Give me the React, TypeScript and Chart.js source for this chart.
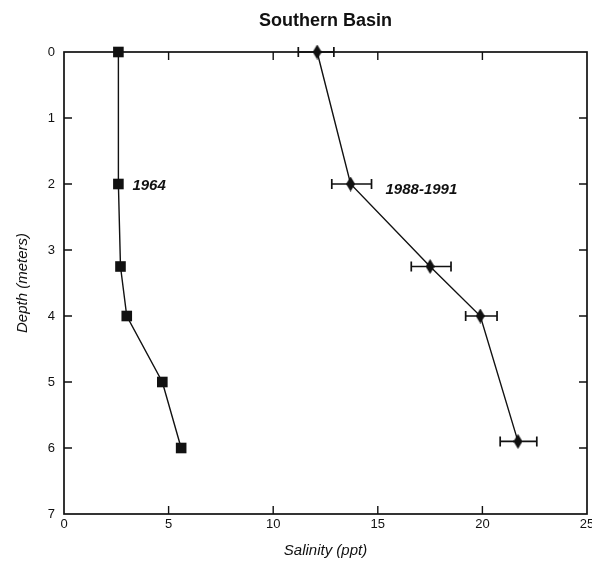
import { useEffect, useRef } from "react";
import { Chart, registerables } from "chart.js";

Chart.register(...registerables);

// Salinity profiles, Southern Basin
const depth1964 = [0, 2, 3.25, 4, 5, 6];
const salinity1964 = [2.6, 2.6, 2.7, 3.0, 4.7, 5.6];

const depthRecent = [0, 2, 3.25, 4, 5.9];
const salinityRecent = [12.1, 13.7, 17.5, 19.9, 21.7];
const salinityRecentLow = [11.2, 12.8, 16.6, 19.2, 20.85];
const salinityRecentHigh = [12.9, 14.7, 18.5, 20.7, 22.6];

const seriesNames = ["1964", "1988-1991"];
const innerTicksX = [5, 10, 15, 20];
const innerTicksY = [1, 2, 3, 4, 5, 6];

const FONT = "'Liberation Sans', Arial, Helvetica, sans-serif";
const INK = "#111";

function makeDiamond(w: number, h: number) {
  const c = document.createElement("canvas");
  c.width = w;
  c.height = h;
  const ctx = c.getContext("2d")!;
  ctx.fillStyle = INK;
  ctx.beginPath();
  ctx.moveTo(w / 2, 0);
  ctx.lineTo(w, h / 2);
  ctx.lineTo(w / 2, h);
  ctx.lineTo(0, h / 2);
  ctx.closePath();
  ctx.fill();
  return c;
}

// box frame with inward-pointing ticks on all four sides
const framePlugin = {
  id: "frameTicks",
  beforeDatasetsDraw(chart: any) {
    const { ctx, chartArea: a, scales } = chart;
    const len = 8;
    ctx.save();
    ctx.strokeStyle = INK;
    ctx.lineWidth = 1.7;
    ctx.strokeRect(a.left, a.top, a.right - a.left, a.bottom - a.top);
    ctx.lineWidth = 1.4;
    ctx.beginPath();
    for (const v of innerTicksX) {
      const px = scales.x.getPixelForValue(v);
      ctx.moveTo(px, a.top);
      ctx.lineTo(px, a.top + len);
      ctx.moveTo(px, a.bottom);
      ctx.lineTo(px, a.bottom - len);
    }
    for (const v of innerTicksY) {
      const py = scales.y.getPixelForValue(v);
      ctx.moveTo(a.left, py);
      ctx.lineTo(a.left + len, py);
      ctx.moveTo(a.right, py);
      ctx.lineTo(a.right - len, py);
    }
    ctx.stroke();
    ctx.restore();
  },
};

// horizontal error bars for the 1988-1991 profile
const errorBarPlugin = {
  id: "errorBars",
  beforeDatasetsDraw(chart: any) {
    const { ctx, scales } = chart;
    const cap = 5;
    ctx.save();
    ctx.strokeStyle = INK;
    ctx.lineWidth = 1.7;
    ctx.beginPath();
    depthRecent.forEach((d, i) => {
      const y = scales.y.getPixelForValue(d);
      const x0 = scales.x.getPixelForValue(salinityRecentLow[i]);
      const x1 = scales.x.getPixelForValue(salinityRecentHigh[i]);
      ctx.moveTo(x0, y);
      ctx.lineTo(x1, y);
      ctx.moveTo(x0, y - cap);
      ctx.lineTo(x0, y + cap);
      ctx.moveTo(x1, y - cap);
      ctx.lineTo(x1, y + cap);
    });
    ctx.stroke();
    ctx.restore();
  },
};

// series names written beside the 2 m points
const seriesLabelPlugin = {
  id: "seriesLabels",
  afterDatasetsDraw(chart: any) {
    const { ctx, scales } = chart;
    ctx.save();
    ctx.fillStyle = INK;
    ctx.font = `italic bold 15px ${FONT}`;
    ctx.textAlign = "left";
    ctx.textBaseline = "alphabetic";
    const i1964 = depth1964.indexOf(2);
    ctx.fillText(
      seriesNames[0],
      scales.x.getPixelForValue(salinity1964[i1964]) + 14,
      scales.y.getPixelForValue(depth1964[i1964]) + 6
    );
    const iRecent = depthRecent.indexOf(2);
    ctx.fillText(
      seriesNames[1],
      scales.x.getPixelForValue(salinityRecentHigh[iRecent]) + 14,
      scales.y.getPixelForValue(depthRecent[iRecent]) + 10
    );
    ctx.restore();
  },
};

const noPadding = () => ({ left: 0, top: 0, right: 0, bottom: 0 });

export default function App() {
  const canvasRef = useRef<HTMLCanvasElement | null>(null);

  useEffect(() => {
    if (!canvasRef.current) return;
    const diamond = makeDiamond(9, 15);
    const chart = new Chart(canvasRef.current, {
      type: "scatter",
      data: {
        datasets: [
          {
            label: seriesNames[0],
            data: depth1964.map((d, i) => ({ x: salinity1964[i], y: d })),
            showLine: true,
            borderColor: INK,
            borderWidth: 1.4,
            pointStyle: "rect",
            pointRadius: 7.5,
            pointBackgroundColor: INK,
            pointBorderColor: INK,
            pointBorderWidth: 0,
            clip: false,
          },
          {
            label: seriesNames[1],
            data: depthRecent.map((d, i) => ({ x: salinityRecent[i], y: d })),
            showLine: true,
            borderColor: INK,
            borderWidth: 1.4,
            pointStyle: diamond,
            pointRadius: 7,
            pointBackgroundColor: INK,
            pointBorderColor: INK,
            clip: false,
          },
        ],
      },
      options: {
        responsive: false,
        animation: false,
        events: [],
        layout: { autoPadding: false, padding: { left: 0, top: 0, right: 5, bottom: 0 } },
        plugins: {
          legend: { display: false },
          tooltip: { enabled: false },
          title: {
            display: true,
            text: "Southern Basin",
            fullSize: false,
            color: INK,
            font: { family: FONT, size: 18, weight: "bold" },
            padding: { top: 10, bottom: 20.4 },
          },
        },
        scales: {
          x: {
            type: "linear",
            position: "bottom",
            min: 0,
            max: 25,
            ticks: {
              stepSize: 5,
              color: INK,
              padding: 3,
              font: { family: FONT, size: 13 },
            },
            grid: { display: false, drawTicks: false, tickLength: 0 },
            border: { display: false },
            title: {
              display: true,
              text: "Salinity (ppt)",
              color: INK,
              font: { family: FONT, size: 15, style: "italic" },
              padding: { top: 0, bottom: 1 },
            },
            afterFit: (s: any) => {
              s.height = 47;
              s.paddingLeft = 0;
              s.paddingRight = 0;
              s.getPadding = noPadding;
            },
          },
          y: {
            type: "linear",
            position: "left",
            reverse: true,
            min: 0,
            max: 7,
            ticks: {
              stepSize: 1,
              color: INK,
              padding: 9,
              font: { family: FONT, size: 13 },
            },
            grid: { display: false, drawTicks: false, tickLength: 0 },
            border: { display: false },
            title: {
              display: true,
              text: "Depth (meters)",
              color: INK,
              font: { family: FONT, size: 15, style: "italic" },
              padding: { top: 14, bottom: 0 },
            },
            afterFit: (s: any) => {
              s.width = 64;
              s.paddingTop = 0;
              s.paddingBottom = 0;
              s.getPadding = noPadding;
            },
          },
        },
      },
      plugins: [framePlugin, errorBarPlugin, seriesLabelPlugin],
    });
    return () => chart.destroy();
  }, []);

  return (
    <div style={{ position: "fixed", left: 0, top: 0, width: 592, height: 561, background: "#fff" }}>
      <canvas ref={canvasRef} width={592} height={561} style={{ display: "block" }} />
    </div>
  );
}
